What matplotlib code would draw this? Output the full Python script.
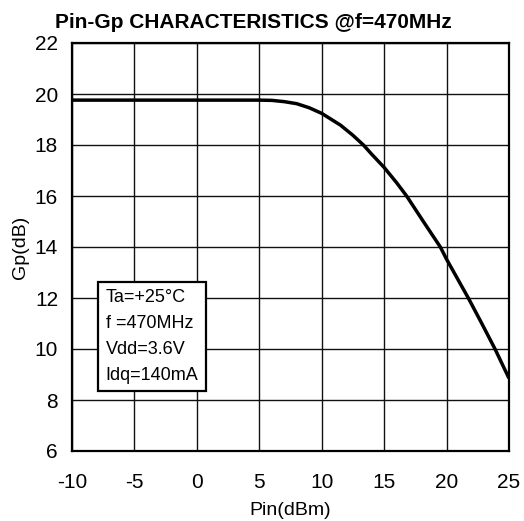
import matplotlib
matplotlib.use("Agg")
import matplotlib.pyplot as plt
import numpy as np

pin = [-10, -5, 0, 5, 6, 7, 8, 9, 10, 11.5, 12.5, 13.34, 14, 15, 16, 16.8, 18.14, 19.5, 20, 21.74, 22.8, 23.88, 25]
gp = [19.76, 19.76, 19.76, 19.76, 19.75, 19.7, 19.62, 19.46, 19.24, 18.78, 18.38, 18.0, 17.64, 17.12, 16.52, 16.0, 15.0, 14.0, 13.52, 12.0, 11.02, 10.0, 8.85]

xticks = [-10, -5, 0, 5, 10, 15, 20, 25]
yticks = [6, 8, 10, 12, 14, 16, 18, 20, 22]
conditions = ["Ta=+25°C", "f =470MHz", "Vdd=3.6V", "Idq=140mA"]

plt.rcParams['font.family'] = ['Liberation Sans', 'DejaVu Sans']

fig = plt.figure(figsize=(5.24, 5.21), dpi=100)
W, H = 524, 521
ax = fig.add_axes([72 / W, 1 - 451 / H, (509 - 72) / W, (451 - 43) / H])

ax.plot(pin, gp, color='black', lw=2.5, solid_capstyle='butt', solid_joinstyle='round', zorder=3)
ax.set_xlim(-10, 25)
ax.set_ylim(6, 22)
ax.set_xticks(xticks)
ax.set_yticks(yticks)
ax.set_xticklabels([str(v) for v in xticks])
ax.set_yticklabels([str(v) for v in yticks])
ax.grid(True, color='#111111', lw=1.0)
ax.tick_params(length=0, labelsize=15)
ax.tick_params(axis='x', pad=16)
ax.tick_params(axis='y', pad=10)
for s in ax.spines.values():
    s.set_linewidth(1.6)
    s.set_zorder(4)

ax.set_xlabel("Pin(dBm)", fontsize=14, labelpad=7)
ax.set_ylabel("Gp(dB)", fontsize=14, labelpad=4)

fig.text(253 / W, 1 - 22 / H, "Pin-Gp CHARACTERISTICS @f=470MHz", ha='center', va='center',
         fontsize=15, fontweight='bold')

ax.text(-7.3, 10.5, "\n".join(conditions), fontsize=13, ha='left', va='center', linespacing=1.68,
        zorder=5,
        bbox=dict(boxstyle='square,pad=0.4', facecolor='white', edgecolor='black', lw=1.6))

fig.savefig("out.png", dpi=100)
